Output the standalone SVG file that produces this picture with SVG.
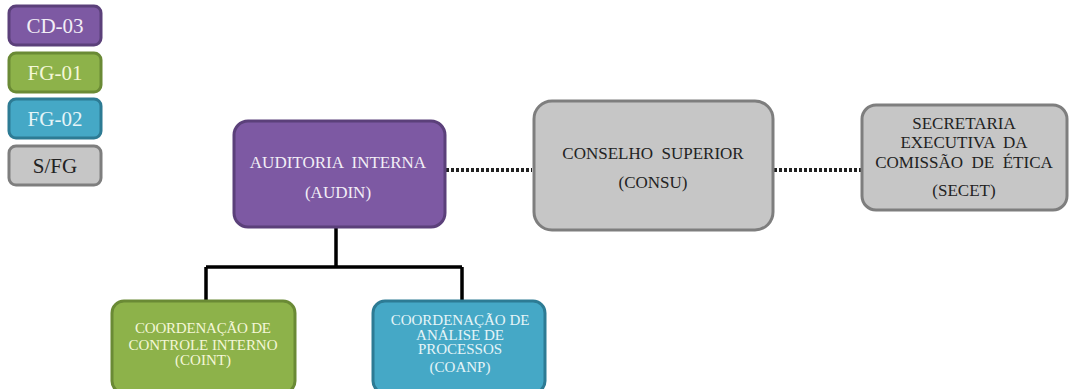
<svg xmlns="http://www.w3.org/2000/svg" width="1069" height="389" viewBox="0 0 1069 389">
<style>
text{font-family:"Liberation Serif","Times New Roman",serif;text-anchor:middle}
.pu{fill:#7d59a3;stroke:#5b407a;stroke-width:3}
.gr{fill:#8db24a;stroke:#6a8a35;stroke-width:3}
.bl{fill:#45a8c6;stroke:#2d7b94;stroke-width:3}
.gy{fill:#c6c6c6;stroke:#7e7e7e;stroke-width:3}
.wt{fill:#f2eef6}
.yt{fill:#f4f7d8}
.ct{fill:#e6f5f8}
.dk{fill:#222}
.lg{font-size:21px}
.n{font-size:17px}
.s{font-size:15px}
.solid{stroke:#000;stroke-width:3.5;fill:none}
.dot{stroke:#222;stroke-width:4;stroke-dasharray:3 2;fill:none}
</style>
<rect width="1069" height="389" fill="#fff"/>
<g id="legend">
<g id="leg-cd03"><rect class="pu" x="9" y="6" width="92" height="39" rx="7"/><text class="lg wt" x="55" y="33">CD-03</text></g>
<g id="leg-fg01"><rect class="gr" x="9" y="53" width="92" height="39" rx="7"/><text class="lg yt" x="55" y="80">FG-01</text></g>
<g id="leg-fg02"><rect class="bl" x="9" y="99" width="92" height="39" rx="7"/><text class="lg ct" x="55" y="126">FG-02</text></g>
<g id="leg-sfg"><rect class="gy" x="9" y="146" width="92" height="39" rx="7"/><text class="lg dk" x="55" y="173">S/FG</text></g>
</g>
<g id="connectors">
<path class="dot" d="M446 170H532"/>
<path class="dot" d="M774 170H861"/>
<path class="solid" d="M336 228V267M206 267H462M206 267V301M462 267V301"/>
</g>
<g id="audin"><rect class="pu" x="234" y="121" width="211" height="106" rx="14"/>
<text class="n wt" x="338" y="168" xml:space="preserve">AUDITORIA  INTERNA</text><text class="n wt" x="338" y="198">(AUDIN)</text></g>
<g id="consu"><rect class="gy" x="534" y="101" width="239" height="129" rx="18"/>
<text class="n dk" x="653" y="159" xml:space="preserve">CONSELHO  SUPERIOR</text><text class="n dk" x="653" y="188">(CONSU)</text></g>
<g id="secet"><rect class="gy" x="862" y="105" width="205" height="105" rx="14"/>
<text class="n dk" x="964" y="129">SECRETARIA</text>
<text class="n dk" x="964" y="148" xml:space="preserve">EXECUTIVA  DA</text>
<text class="n dk" x="964" y="168" xml:space="preserve">COMISSÃO  DE  ÉTICA</text>
<text class="n dk" x="964" y="196">(SECET)</text></g>
<g id="coint"><rect class="gr" x="112" y="301" width="183" height="92" rx="12"/>
<text class="s yt" x="203" y="333" textLength="136">COORDENAÇÃO DE</text>
<text class="s yt" x="203" y="350" textLength="149">CONTROLE INTERNO</text>
<text class="s yt" x="203" y="365">(COINT)</text></g>
<g id="coanp"><rect class="bl" x="373" y="301" width="172" height="92" rx="12"/>
<text class="s ct" x="460" y="325">COORDENAÇÃO DE</text>
<text class="s ct" x="460" y="340">ANÁLISE DE</text>
<text class="s ct" x="460" y="354">PROCESSOS</text>
<text class="s ct" x="460" y="372">(COANP)</text></g>
</svg>
